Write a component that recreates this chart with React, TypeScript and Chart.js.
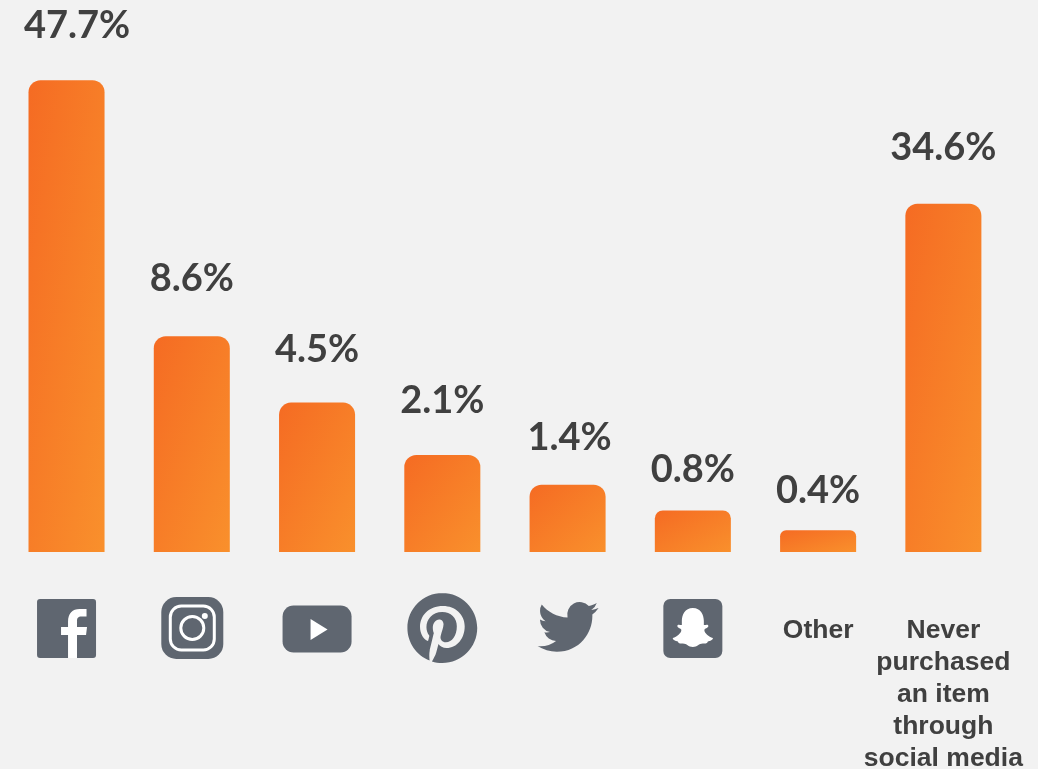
import React, { useEffect, useRef } from "react";
import { Chart, registerables } from "chart.js";

Chart.register(...registerables);

// The reference's bars are not proportional to their printed shares, so both are read separately.
const tickLabels: (string | string[])[] = [
  "", "", "", "", "", "", "Other",
  ["Never", "purchased", "an item", "through", "social media"],
];
const iconNames = ["facebook", "instagram", "youtube", "pinterest", "twitter", "snapchat", "", ""];
const shareLabels = ["47.7%", "8.6%", "4.5%", "2.1%", "1.4%", "0.8%", "0.4%", "34.6%"];
const barLengths = [47.7, 21.8, 15.1, 9.8, 6.8, 4.2, 2.2, 35.2];

// layout constants, px
const labelGaps = [42, 45, 41, 42, 35, 28, 27, 44];
const labelShifts = [10.5, 0, 0, 0, 2, 0, 0, 0];
const AXIS_MAX = 55.8;
const ICON_Y = 629;
const GREY = "#5f6670";
const BG = "#f2f2f2";

const P_TWITTER = "M23.953 4.57a10 10 0 01-2.825.775 4.958 4.958 0 002.163-2.723c-.951.555-2.005.959-3.127 1.184a4.92 4.92 0 00-8.384 4.482C7.69 8.095 4.067 6.13 1.64 3.162a4.822 4.822 0 00-.666 2.475c0 1.71.87 3.213 2.188 4.096a4.904 4.904 0 01-2.228-.616v.06a4.923 4.923 0 003.946 4.827 4.996 4.996 0 01-2.212.085 4.936 4.936 0 004.604 3.417 9.867 9.867 0 01-6.102 2.105c-.39 0-.779-.023-1.17-.067a13.995 13.995 0 007.557 2.209c9.053 0 13.998-7.496 13.998-13.985 0-.21 0-.42-.015-.63A9.935 9.935 0 0024 4.59z";
const P_PINTEREST = "M12.017 0C5.396 0 .029 5.367.029 11.987c0 5.079 3.158 9.417 7.618 11.162-.105-.949-.199-2.403.041-3.439.219-.937 1.406-5.957 1.406-5.957s-.359-.72-.359-1.781c0-1.663.967-2.911 2.168-2.911 1.024 0 1.518.769 1.518 1.688 0 1.029-.653 2.567-.992 3.992-.285 1.193.6 2.165 1.775 2.165 2.128 0 3.768-2.245 3.768-5.487 0-2.861-2.063-4.869-5.008-4.869-3.41 0-5.409 2.562-5.409 5.199 0 1.033.394 2.143.889 2.741.099.12.112.225.085.345-.09.375-.293 1.199-.334 1.363-.053.225-.172.271-.401.165-1.495-.69-2.433-2.878-2.433-4.646 0-3.776 2.748-7.252 7.92-7.252 4.158 0 7.392 2.967 7.392 6.923 0 4.135-2.607 7.462-6.233 7.462-1.214 0-2.354-.629-2.758-1.379l-.749 2.848c-.269 1.045-1.004 2.352-1.498 3.146 1.123.345 2.306.535 3.55.535 6.607 0 11.985-5.365 11.985-11.987C23.97 5.39 18.592.026 11.985.026L12.017 0z";
const P_F = "M1.5 30 V6.5 H-5.5 V-1.5 H1.5 V-7 C1.5 -15 6 -19.5 13 -19.5 H20 V-12 H15 C11.5 -12 10.5 -10.5 10.5 -7.5 V-1.5 H20.5 L19.5 6.5 H10.5 V30 Z";
const P_GHOST = "M0 -20 C8 -20 11 -13 11 -7 L11 -3 C13 -3 15.5 -4 15.5 -2 C15.5 0 11.5 0.5 11.5 2 C11.5 5 16 9 20 10 C20.5 12 17 13 15 13.5 C14 15.5 13.5 15.5 10 15.5 C6 15.5 4.5 19 0 19 C-4.5 19 -6 15.5 -10 15.5 C-13.5 15.5 -14 15.5 -15 13.5 C-17 13 -20.5 12 -20 10 C-16 9 -11.5 5 -11.5 2 C-11.5 0.5 -15.5 0 -15.5 -2 C-15.5 -4 -13 -3 -11 -3 L-11 -7 C-11 -13 -8 -20 0 -20 Z";

function rr(ctx: CanvasRenderingContext2D, x: number, y: number, w: number, h: number, r: number) {
  ctx.beginPath();
  ctx.roundRect(x, y, w, h, r);
}

function drawIcon(ctx: CanvasRenderingContext2D, name: string, x: number) {
  ctx.save();
  ctx.translate(x, ICON_Y);
  ctx.fillStyle = GREY;
  if (name === "facebook") {
    ctx.translate(0, -0.5);
    rr(ctx, -29.5, -29.5, 59, 59, 3);
    ctx.fill();
    ctx.save();
    rr(ctx, -29.5, -29.5, 59, 59, 3);
    ctx.clip();
    ctx.fillStyle = "#ffffff";
    ctx.fill(new Path2D(P_F));
    ctx.restore();
  } else if (name === "instagram") {
    ctx.translate(0.5, -1);
    rr(ctx, -31, -31, 62, 62, 15);
    ctx.fill();
    ctx.strokeStyle = "#ffffff";
    ctx.lineWidth = 3;
    rr(ctx, -22, -22, 44, 44, 11);
    ctx.stroke();
    ctx.beginPath();
    ctx.arc(0, 0, 11.5, 0, Math.PI * 2);
    ctx.stroke();
    ctx.fillStyle = "#ffffff";
    ctx.beginPath();
    ctx.arc(12.5, -12, 3, 0, Math.PI * 2);
    ctx.fill();
  } else if (name === "youtube") {
    rr(ctx, -34.5, -23.5, 69, 47, 11);
    ctx.fill();
    ctx.fillStyle = "#ffffff";
    ctx.beginPath();
    ctx.moveTo(-6.5, -10);
    ctx.lineTo(10.5, 0.5);
    ctx.lineTo(-6.5, 11);
    ctx.closePath();
    ctx.fill();
  } else if (name === "pinterest") {
    ctx.translate(-35, -36);
    ctx.scale(70 / 24, 70 / 24);
    ctx.fill(new Path2D(P_PINTEREST));
  } else if (name === "twitter") {
    ctx.translate(-30, -32.6);
    ctx.scale(61 / 24, 61 / 24);
    ctx.fill(new Path2D(P_TWITTER));
  } else if (name === "snapchat") {
    rr(ctx, -29.5, -30, 59, 59, 7);
    ctx.fill();
    ctx.fillStyle = "#ffffff";
    ctx.translate(0, -1);
    ctx.fill(new Path2D(P_GHOST));
  }
  ctx.restore();
}

const decorations = {
  id: "decorations",
  afterDatasetsDraw(chart: any) {
    const ctx = chart.ctx as CanvasRenderingContext2D;
    const bars = chart.getDatasetMeta(0).data;
    ctx.save();
    ctx.fillStyle = "#404040";
    ctx.font = "bold 38px Lato";
    ctx.textAlign = "center";
    ctx.textBaseline = "alphabetic";
    shareLabels.forEach((t, i) => {
      ctx.fillText(t, bars[i].x + labelShifts[i], bars[i].y - labelGaps[i]);
    });
    ctx.restore();
    iconNames.forEach((name, i) => {
      if (name) drawIcon(ctx, name, chart.scales.x.getPixelForValue(i));
    });
  },
};

function barGradient(c: any) {
  const { chart, dataIndex } = c;
  const sx = chart.scales.x;
  const sy = chart.scales.y;
  if (!chart.chartArea || !sx || !sy) return "#f67c27";
  const cx = sx.getPixelForValue(dataIndex);
  const w = 76;
  const top = sy.getPixelForValue(barLengths[dataIndex]);
  const h = sy.getPixelForValue(0) - top;
  const k = (2 * w * h) / (w * w + h * h);
  const x0 = cx - w / 2;
  const g = chart.ctx.createLinearGradient(x0, top, x0 + h * k, top + w * k);
  g.addColorStop(0, "#f56b23");
  g.addColorStop(1, "#f9902c");
  return g;
}

export default function App() {
  const ref = useRef<HTMLCanvasElement>(null);
  useEffect(() => {
    const chart = new Chart(ref.current!, {
      type: "bar",
      data: {
        labels: tickLabels as any,
        datasets: [
          {
            data: barLengths,
            backgroundColor: barGradient as any,
            borderRadius: ((c: any) => {
              const r = barLengths[c.dataIndex] < 3 ? 6 : barLengths[c.dataIndex] < 5 ? 8 : 12;
              return { topLeft: r, topRight: r, bottomLeft: 0, bottomRight: 0 };
            }) as any,
            borderSkipped: false,
            barPercentage: 0.607,
            categoryPercentage: 1,
          },
        ],
      },
      options: {
        responsive: false,
        animation: false,
        layout: { padding: { left: 3.9, right: 32, top: 0, bottom: 0 } },
        plugins: { legend: { display: false }, tooltip: { enabled: false } },
        scales: {
          y: { display: false, min: 0, max: AXIS_MAX },
          x: {
            grid: { display: false },
            border: { display: false },
            afterFit: (s: any) => {
              s.height = 217;
              s.paddingLeft = 0;
              s.paddingRight = 0;
            },
            ticks: {
              autoSkip: false,
              maxRotation: 0,
              minRotation: 0,
              padding: 55,
              color: "#404040",
              font: { family: "Liberation Sans, Arial, sans-serif", weight: "bold", size: 26.5, lineHeight: 32 / 26.5 },
            },
          },
        },
      },
      plugins: [decorations],
    });
    return () => chart.destroy();
  }, []);
  return (
    <div style={{ position: "fixed", left: 0, top: 0, width: 1038, height: 769, background: BG, overflow: "hidden" }}>
      <canvas ref={ref} width={1038} height={769} style={{ display: "block" }} />
    </div>
  );
}
